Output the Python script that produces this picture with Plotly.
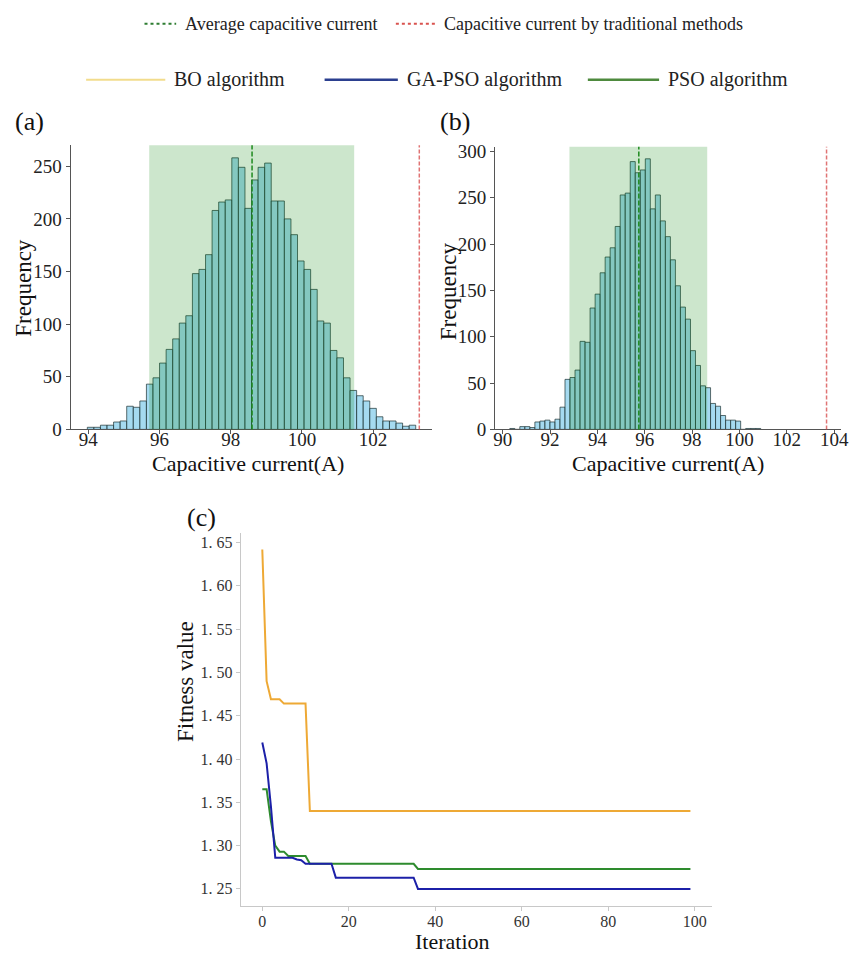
import numpy as np
import plotly.graph_objects as go

# ---- panel (a): capacitive current histogram, BO result ----
a_bin_start = 93.97
a_bin_width = 0.1846
a_counts = [2, 2, 4, 4, 7, 8, 22, 21, 27, 43,
            49, 63, 76, 86, 101, 108, 148, 152, 166, 208,
            216, 218, 258, 249, 210, 237, 249, 253, 217, 217,
            200, 185, 160, 152, 133, 103, 101, 75, 68, 49,
            37, 32, 27, 20, 12, 8, 8, 6, 3, 4]
a_mean = 98.6
a_band = [95.71, 101.47]
a_traditional = 103.3

# ---- panel (b) ----
b_bin_start = 90.3
b_bin_width = 0.212
b_counts = [1, 0, 3, 3, 2, 8, 9, 10, 8, 11,
            24, 54, 56, 64, 95, 94, 131, 146, 169, 186,
            196, 219, 253, 255, 289, 277, 280, 292, 238, 253,
            225, 208, 183, 155, 132, 119, 85, 69, 47, 45,
            28, 25, 15, 10, 10, 9, 0, 1, 1, 1]
b_mean = 95.75
b_band = [92.82, 98.64]
b_traditional = 103.68

# ---- panel (c): convergence curves (breakpoints of the step-like lines) ----
bo_iter = [0, 1, 2, 4, 5, 10, 11, 99]
bo_fit = [1.642, 1.490, 1.469, 1.469, 1.464, 1.464, 1.340, 1.340]
gapso_iter = [0, 1, 2, 3, 7, 8, 9, 10, 16, 17, 35, 36, 99]
gapso_fit = [1.419, 1.395, 1.345, 1.286, 1.286, 1.284, 1.283, 1.279, 1.279, 1.263, 1.263, 1.250, 1.250]
pso_iter = [0, 1, 2, 3, 4, 5, 6, 10, 11, 35, 36, 99]
pso_fit = [1.365, 1.365, 1.328, 1.300, 1.293, 1.293, 1.288, 1.288, 1.279, 1.279, 1.273, 1.273]

a_xticks = [94, 96, 98, 100, 102]
a_yticks = [0, 50, 100, 150, 200, 250]
b_xticks = [90, 92, 94, 96, 98, 100, 102, 104]
b_yticks = [0, 50, 100, 150, 200, 250, 300]
c_xticks = [0, 20, 40, 60, 80, 100]
c_yticks = [1.25, 1.30, 1.35, 1.40, 1.45, 1.50, 1.55, 1.60, 1.65]

W, H = 864, 964
FONT = "Liberation Serif, Times New Roman, serif"

def px(x):
    return x / W

def py(y):
    return 1 - y / H

fig = go.Figure()

bar_fill = "rgba(135,206,235,0.75)"
bar_edge = "rgba(30,50,50,0.7)"

for counts, start, width, xa, ya in [(a_counts, a_bin_start, a_bin_width, "x", "y"),
                                     (b_counts, b_bin_start, b_bin_width, "x2", "y2")]:
    edges = np.linspace(start, start + width * len(counts), len(counts) + 1)
    centers = (edges[:-1] + edges[1:]) / 2
    fig.add_trace(go.Bar(x=centers, y=counts, width=width, xaxis=xa, yaxis=ya,
                         marker=dict(color=bar_fill, line=dict(color=bar_edge, width=1)),
                         showlegend=False, hoverinfo="skip"))

# shaded band, mean line and traditional-method line
for band, mean, trad, xr, yr in [(a_band, a_mean, a_traditional, "x", "y domain"),
                                 (b_band, b_mean, b_traditional, "x2", "y2 domain")]:
    fig.add_shape(type="rect", xref=xr, yref=yr, x0=band[0], x1=band[1], y0=0, y1=1,
                  fillcolor="rgba(0,128,0,0.2)", line_width=0, layer="above")
    fig.add_shape(type="line", xref=xr, yref=yr, x0=mean, x1=mean, y0=0, y1=1,
                  line=dict(color="#1e8a1e", width=1.5, dash="5px,2px"), layer="above")
    fig.add_shape(type="line", xref=xr, yref=yr, x0=trad, x1=trad, y0=0, y1=1,
                  line=dict(color="rgba(214,70,70,0.75)", width=1.5, dash="4px,2px"), layer="above")

fig.add_trace(go.Scatter(x=bo_iter, y=bo_fit, mode="lines", xaxis="x3", yaxis="y3",
                         line=dict(color="#eea935", width=2), showlegend=False))
fig.add_trace(go.Scatter(x=pso_iter, y=pso_fit, mode="lines", xaxis="x3", yaxis="y3",
                         line=dict(color="#2e8b2e", width=2), showlegend=False))
fig.add_trace(go.Scatter(x=gapso_iter, y=gapso_fit, mode="lines", xaxis="x3", yaxis="y3",
                         line=dict(color="#1c20a8", width=2), showlegend=False))

hist_axis = dict(showline=True, linecolor="#555", linewidth=1, ticks="outside", ticklen=4,
                 tickcolor="#555", showgrid=False, zeroline=False,
                 tickfont=dict(family=FONT, size=19, color="#222"))
line_axis = dict(showline=True, linecolor="#c8c8c8", linewidth=1.2, ticks="outside", ticklen=4,
                 tickcolor="#c8c8c8", showgrid=False, zeroline=False,
                 tickfont=dict(family=FONT, size=16, color="#333"))

fig.update_layout(
    width=W, height=H, margin=dict(l=0, r=0, t=0, b=0),
    plot_bgcolor="white", paper_bgcolor="white", barmode="overlay",
    font=dict(family=FONT, color="#222"),
    xaxis=dict(hist_axis, domain=[px(69.3), px(435)], range=[93.5, 103.67], tickvals=a_xticks,
               anchor="y", ticklabelstandoff=-11),
    yaxis=dict(hist_axis, domain=[py(431), py(141.7)], range=[0, 270], tickvals=a_yticks, anchor="x"),
    xaxis2=dict(hist_axis, domain=[px(498.3), px(848.3)], range=[89.68, 104.31], tickvals=b_xticks,
                anchor="y2", ticklabelstandoff=-11),
    yaxis2=dict(hist_axis, domain=[py(431), py(143.3)], range=[0, 305], tickvals=b_yticks, anchor="x2"),
    xaxis3=dict(line_axis, domain=[px(241.4), px(717.3)], range=[-4.95, 103.95], tickvals=c_xticks,
                anchor="y3", ticklabelstandoff=-3),
    yaxis3=dict(line_axis, domain=[py(916), py(536)], range=[1.2304, 1.6616], tickvals=c_yticks,
                ticktext=[f"{v:.2f}".replace(".", ". ") for v in c_yticks], anchor="x3"),
)

# ---- legends drawn at the top ----
def legend_item(x0, x1, y, color, dash, width, label, size):
    fig.add_shape(type="line", xref="paper", yref="paper", x0=px(x0), x1=px(x1), y0=py(y), y1=py(y),
                  line=dict(color=color, width=width, dash=dash))
    fig.add_annotation(xref="paper", yref="paper", x=px(x1 + 7), y=py(y), text=label, showarrow=False,
                       xanchor="left", yanchor="middle", font=dict(family=FONT, size=size, color="#222"))

legend_item(144, 176, 18, "#2e7d32", "dot", 2, "Average capacitive current", 18)
legend_item(398, 438, 18, "#d9534f", "dot", 2, "Capacitive current by traditional methods", 18)
legend_item(85, 165, 75, "#f2dc8c", "solid", 2, "BO algorithm", 20)
legend_item(326, 400, 75, "#2b3f8f", "solid", 2.5, "GA-PSO algorithm", 20)
legend_item(592, 664, 75, "#4e8a3e", "solid", 2.5, "PSO algorithm", 20)

# ---- panel labels and axis titles ----
def text(x, y, s, size, angle=0):
    fig.add_annotation(xref="paper", yref="paper", x=px(x), y=py(y), text=s, showarrow=False,
                       xanchor="center", yanchor="middle", textangle=angle,
                       font=dict(family=FONT, size=size, color="#111"))

text(28, 118, "(a)", 26)
text(458, 118, "(b)", 26)
text(202, 521, "(c)", 26)
text(22, 287, "Frequency", 23, -90)
text(452, 290, "Frequency", 23, -90)
text(249, 466, "Capacitive current(A)", 22)
text(673, 466, "Capacitive current(A)", 22)
text(186, 688, "Fitness value", 23, -90)
text(455, 952, "Iteration", 22)

page_fix = "document.body.style.margin='0';document.body.style.overflow='hidden';"
fig.write_html("out.html", config={"displayModeBar": False}, post_script=page_fix)
